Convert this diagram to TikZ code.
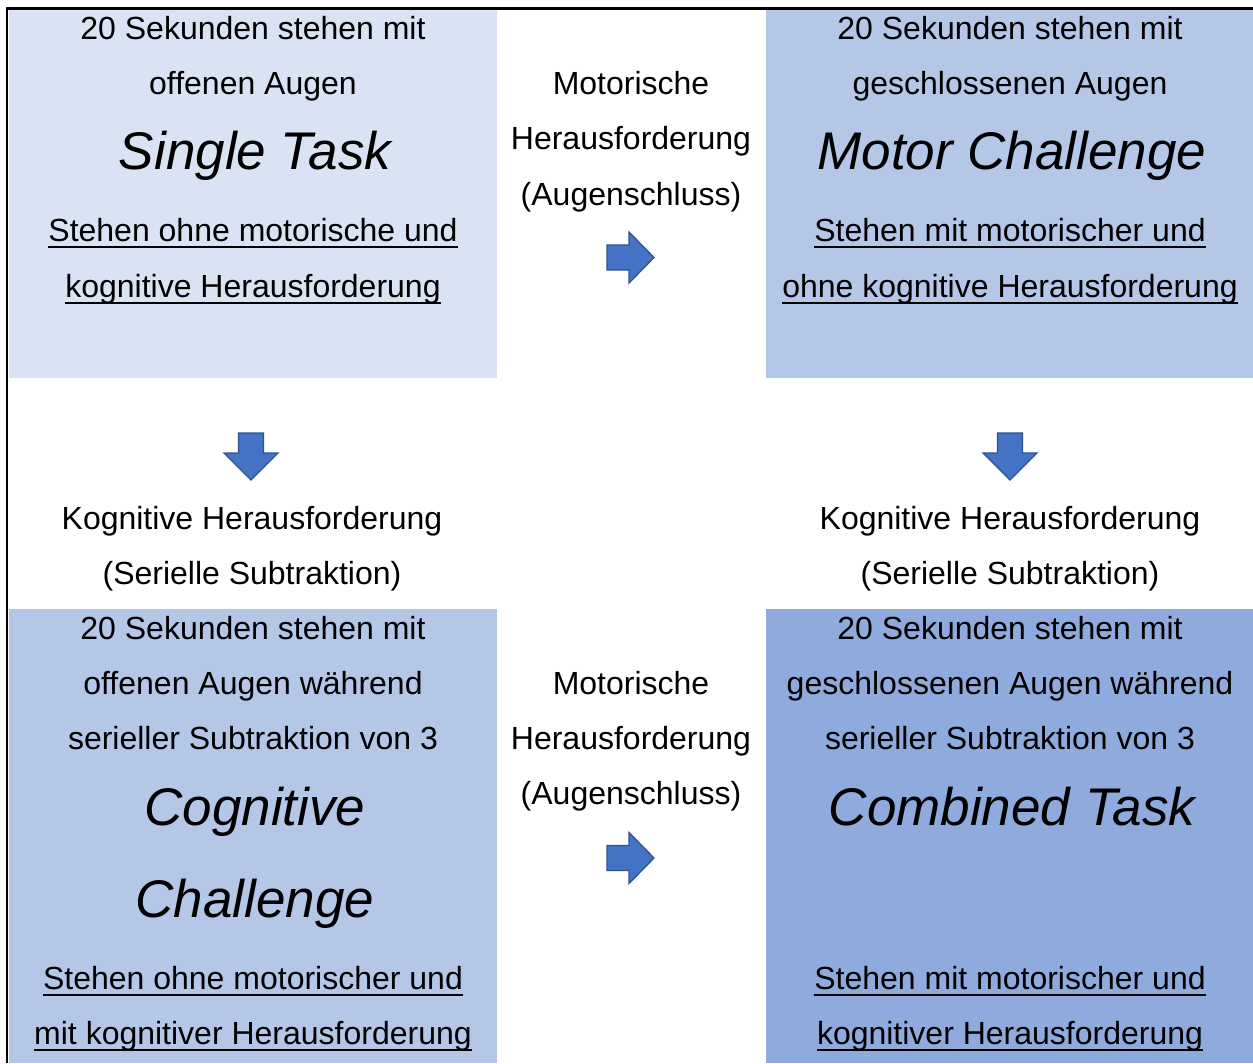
\documentclass[tikz,border=0pt]{standalone}
\usepackage{fontspec}
\setmainfont{Liberation Sans}

\definecolor{boxA}{HTML}{DAE3F3}
\definecolor{boxB}{HTML}{B4C7E7}
\definecolor{boxC}{HTML}{8FAADC}
\definecolor{arrowfill}{HTML}{4472C4}
\definecolor{arrowline}{HTML}{2F528F}

% underline drawn a little below the baseline, through descenders
\newcommand\ulin[1]{\setbox0\hbox{#1}\rlap{\rule[-6.5pt]{\wd0}{2pt}}\box0}

\tikzset{
  txt/.style={anchor=base, inner sep=0pt, font=\fontsize{32}{38}\selectfont},
  big/.style={anchor=base, inner sep=0pt, font=\fontsize{53}{60}\selectfont\itshape},
  blockarrow/.style={fill=arrowfill, draw=arrowline, line width=1.3pt, line join=miter},
  pics/arrowright/.style={code={
    \draw[blockarrow] (-23.5,-12.5) -- (-1.5,-12.5) -- (-1.5,-25.5) -- (23.5,0)
      -- (-1.5,25.5) -- (-1.5,12.5) -- (-23.5,12.5) -- cycle;}},
  pics/arrowdown/.style={code={
    \draw[blockarrow] (-12.5,-23.5) -- (12.5,-23.5) -- (12.5,-3.5) -- (27,-3.5)
      -- (0,23.5) -- (-27,-3.5) -- (-12.5,-3.5) -- cycle;}},
}

\begin{document}
\begin{tikzpicture}[x=1pt, y=-1pt]
\useasboundingbox (0,0) rectangle (1253,1063);
\fill[white] (0,0) rectangle (1253,1063);

% coloured cells
\fill[boxA] (9,10) rectangle (497,378);
\fill[boxB] (766,10) rectangle (1253,378);
\fill[boxB] (9,609) rectangle (497,1063);
\fill[boxC] (766,609) rectangle (1253,1063);

% frame on the left and top
\draw[line width=2.5pt] (7,1063) -- (7,8.5) -- (1253,8.5);

% top left cell
\node[txt] (tl1) at (253,39.5) {20 Sekunden stehen mit};
\node[txt] (tl2) at (253,94.5) {offenen Augen};
\node[big] (tl3) at (255,169) {Single Task};
\node[txt] (tl4) at (253,241.5) {\ulin{Stehen ohne motorische und}};
\node[txt] (tl5) at (253,297) {\ulin{kognitive Herausforderung}};

% top middle
\node[txt] (tm1) at (631,94.5) {Motorische};
\node[txt] (tm2) at (631,149.5) {Herausforderung};
\node[txt] (tm3) at (631,205.5) {(Augenschluss)};
\pic at (630.5,257.5) {arrowright};

% top right cell
\node[txt] (tr1) at (1010,39.5) {20 Sekunden stehen mit};
\node[txt] (tr2) at (1010,94.5) {geschlossenen Augen};
\node[big] (tr3) at (1012,169) {Motor Challenge};
\node[txt] (tr4) at (1010,241.5) {\ulin{Stehen mit motorischer und}};
\node[txt] (tr5) at (1010,297) {\ulin{ohne kognitive Herausforderung}};

% middle row
\pic at (251,456.5) {arrowdown};
\pic at (1010,456.5) {arrowdown};
\node[txt] (ml1) at (252,529) {Kognitive Herausforderung};
\node[txt] (ml2) at (252,584) {(Serielle Subtraktion)};
\node[txt] (mr1) at (1010,529) {Kognitive Herausforderung};
\node[txt] (mr2) at (1010,584) {(Serielle Subtraktion)};

% bottom left cell
\node[txt] (bl1) at (253,639.5) {20 Sekunden stehen mit};
\node[txt] (bl2) at (253,694.5) {offenen Augen während};
\node[txt] (bl3) at (253,749.5) {serieller Subtraktion von 3};
\node[big] (bl4) at (255,825) {Cognitive};
\node[big] (bl5) at (255,917) {Challenge};
\node[txt] (bl6) at (253,989) {\ulin{Stehen ohne motorischer und}};
\node[txt] (bl7) at (253,1044) {\ulin{mit kognitiver Herausforderung}};

% bottom middle
\node[txt] (bm1) at (631,694.5) {Motorische};
\node[txt] (bm2) at (631,749.5) {Herausforderung};
\node[txt] (bm3) at (631,804.5) {(Augenschluss)};
\pic at (630.5,858) {arrowright};

% bottom right cell
\node[txt] (br1) at (1010,639.5) {20 Sekunden stehen mit};
\node[txt] (br2) at (1010,694.5) {geschlossenen Augen während};
\node[txt] (br3) at (1010,749.5) {serieller Subtraktion von 3};
\node[big] (br4) at (1012,825) {Combined Task};
\node[txt] (br5) at (1010,989) {\ulin{Stehen mit motorischer und}};
\node[txt] (br6) at (1010,1044) {\ulin{kognitiver Herausforderung}};
\end{tikzpicture}
\end{document}
